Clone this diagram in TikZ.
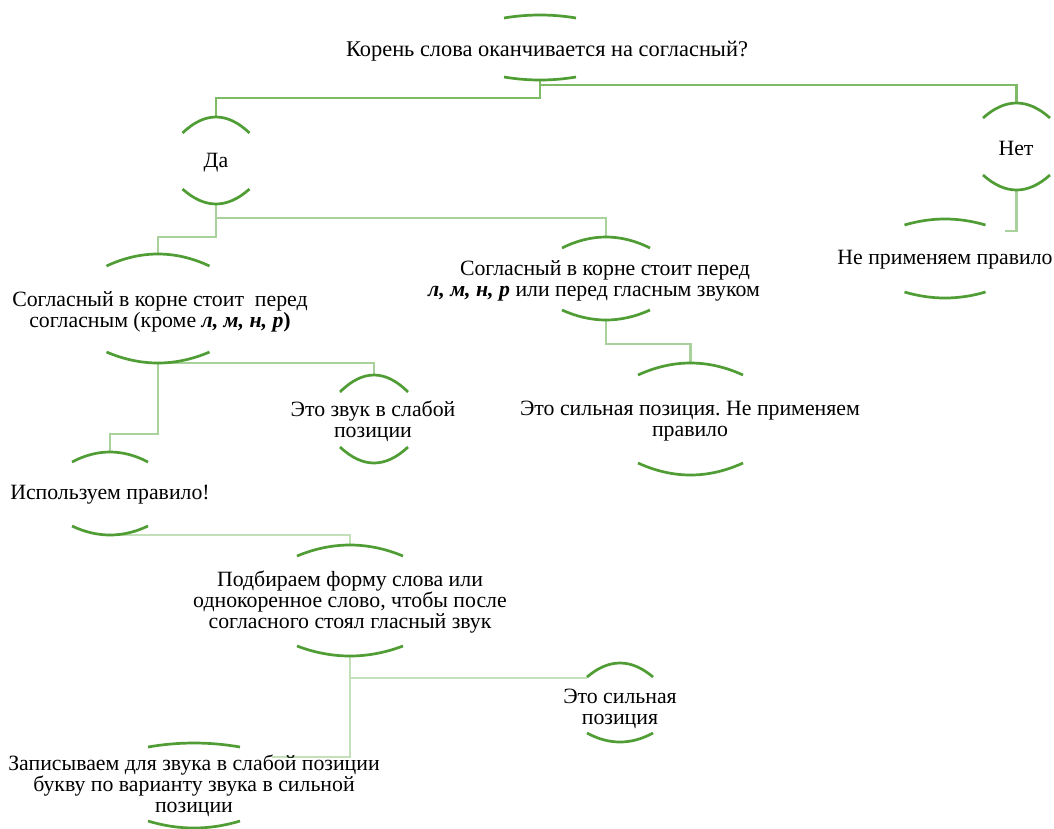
\documentclass[tikz,border=0pt]{standalone}
\usepackage{fontspec}
\setmainfont{Liberation Serif}
\frenchspacing
\definecolor{arcgreen}{HTML}{4F9D34}
\definecolor{connA}{HTML}{7DBB66}
\definecolor{connB}{HTML}{A9D19B}
\definecolor{connC}{HTML}{C4E0BA}
\tikzset{
  arcst/.style={draw=arcgreen, line width=2.7pt},
  conA/.style={draw=connA, line width=2.5pt},
  conB/.style={draw=connB, line width=2.5pt},
  conC/.style={draw=connC, line width=2.5pt},
  txt/.style={align=center, inner sep=0pt, text=black, font=\fontsize{21.8}{21}\selectfont}
}
% #1 name, #2 cx, #3 half width, #4 top peak y, #5 top end y, #6 bottom peak y, #7 bottom end y
\newcommand\mybrk[7]{%
  \draw[arcst] (#2-#3,#5) .. controls (#2-#3/3,{(4*#4-#5)/3}) and (#2+#3/3,{(4*#4-#5)/3}) .. (#2+#3,#5);
  \draw[arcst] (#2-#3,#7) .. controls (#2-#3/3,{(4*#6-#7)/3}) and (#2+#3/3,{(4*#6-#7)/3}) .. (#2+#3,#7);
  \coordinate (#1-t) at (#2,#4);
  \coordinate (#1-b) at (#2,#6);
}
\begin{document}
\begin{tikzpicture}[x=1pt,y=-1pt]
\useasboundingbox (0,0) rectangle (1054,828);
\fill[white] (0,0) rectangle (1054,828);

% coordinates of bracket arcs
\path
  (540,15) coordinate (r-t) (540,80) coordinate (r-b)
  (216,117) coordinate (da-t) (216,204) coordinate (da-b)
  (1016.5,103) coordinate (net-t) (1016.5,190) coordinate (net-b)
  (945,219) coordinate (np-t) (945,298) coordinate (np-b)
  (158,254) coordinate (left-t) (158,363) coordinate (left-b)
  (606,237) coordinate (mid-t) (606,320) coordinate (mid-b)
  (374,375) coordinate (zv-t) (374,463) coordinate (zv-b)
  (690.5,363) coordinate (sil-t) (690.5,475) coordinate (sil-b)
  (110,452) coordinate (isp-t) (110,535) coordinate (isp-b)
  (350,545) coordinate (pod-t) (350,656) coordinate (pod-b)
  (620,663) coordinate (s2-t) (620,742) coordinate (s2-b)
  (194,743) coordinate (zap-t) (194,828) coordinate (zap-b);
\coordinate (netstub) at (1005,231);
\coordinate (s2in) at (587,678);
\coordinate (zapstub) at (272,757);

% connectors
\draw[conA] (r-b) -- ++(0,18) -| (da-t);
\draw[conA] (r-b) ++(0,5) -| (net-t);
\draw[conB] (da-b) -- ++(0,14) -| (mid-t);
\draw[conB] (da-b) -- ++(0,33) -| (left-t);
\draw[conB] (net-b) |- (netstub);
\draw[conB] (left-b) -| (zv-t);
\draw[conB] (left-b) -- ++(0,71) -| (isp-t);
\draw[conB] (mid-b) -- ++(0,24) -| (sil-t);
\draw[conC] (isp-b) -| (pod-t);
\draw[conC] (pod-b) |- (s2in);
\draw[conC] (pod-b) |- (zapstub);

% bracket arcs
\mybrk{r}{540}{36}{15}{18}{80}{77}
\mybrk{da}{216}{33.5}{117}{133}{204}{189}
\mybrk{net}{1016.5}{33.5}{103}{118}{190}{175}
\mybrk{np}{945}{40.5}{219}{225}{298}{292}
\mybrk{left}{158}{51.5}{254}{266}{363}{352}
\mybrk{mid}{606}{44}{237}{248}{320}{310}
\mybrk{zv}{374}{34}{375}{392}{463}{447}
\mybrk{sil}{690.5}{52.5}{363}{375}{475}{463}
\mybrk{isp}{110}{38}{452}{462}{535}{526}
\mybrk{pod}{350}{53}{545}{556}{656}{646}
\mybrk{s2}{620}{33}{663}{677}{742}{733}
\mybrk{zap}{194}{46}{743}{747}{828}{821}

% texts
\node[txt, font=\fontsize{22.4}{21}\selectfont] (tr) at (547,51) {Корень слова оканчивается на согласный?};
\node[txt] (tda) at (216,163) {Да};
\node[txt] (tnet) at (1016,148) {Нет};
\node[txt] (tnp) at (945,260) {Не применяем правило};
\node[txt] (tleft) at (160,312) {Согласный в корне стоит\ \ перед\\согласным (кроме \textbf{\textit{л, м, н, р})}};
\node[txt] (tmid) at (600,281) {\hspace*{10pt}Согласный в корне стоит перед\\\textbf{\textit{л, м, н, р}} или перед гласным звуком\hspace*{12pt}};
\node[txt] (tzv) at (373,421) {Это звук в слабой\\позиции};
\node[txt] (tsil) at (690,421) {Это сильная позиция. Не применяем\\правило};
\node[txt] (tisp) at (110,495) {Используем правило!};
\node[txt] (tpod) at (350,602) {Подбираем форму слова или\\однокоренное слово, чтобы после\\согласного стоял гласный звук};
\node[txt] (ts2) at (620,708.5) {Это сильная\\позиция};
\node[txt] (tzap) at (194,786) {Записываем для звука в слабой позиции\\букву по варианту звука в сильной\\позиции};
\end{tikzpicture}
\end{document}
